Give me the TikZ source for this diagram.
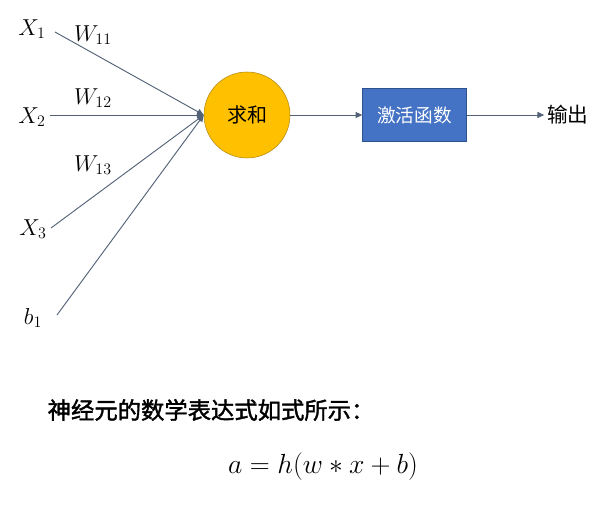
\documentclass[tikz,border=0pt]{standalone}
\usepackage{amsmath,amssymb}
\usepackage{fontspec}
\usepackage{xcolor}
\usepackage{tikz}
\usetikzlibrary{positioning, arrows.meta, calc}
\newfontfamily\cjk{Noto Sans CJK SC}
\newfontfamily\cjkmed[FakeBold=1.6]{Noto Sans CJK SC}
\definecolor{sumfill}{RGB}{255,192,0}
\definecolor{sumline}{RGB}{176,136,20}
\definecolor{actfill}{RGB}{68,114,196}
\definecolor{actline}{RGB}{47,82,143}
\definecolor{wire}{RGB}{84,98,120}
\tikzset{
  sum/.style={
    circle, draw=sumline, fill=sumfill, minimum size=64.5pt,
    inner sep=0pt, font=\cjk\fontsize{15}{18}\selectfont
  },
  act/.style={
    rectangle, draw=actline, fill=actfill, minimum width=78pt,
    minimum height=40pt, text=white, font=\cjk\fontsize{14}{17}\selectfont
  },
  inlabel/.style={font=\fontsize{16.5}{19}\selectfont, inner sep=2pt},
  outlabel/.style={font=\cjk\fontsize{15.5}{18}\selectfont, inner sep=2pt},
  wire/.style={draw=wire, line width=0.7pt, -{Triangle[length=5pt,width=4.5pt]}},
}

\begin{document}
\begin{tikzpicture}[x=0.75pt, y=-0.75pt, node distance=54pt]
  \useasboundingbox (0,0) rectangle (593,513);
  \node[sum] (SUM) at (247,115) {求和};
  \node[act, right=of SUM] (ACT) {激活函数};
  \node[outlabel, right=58pt of ACT] (OUT) {输出};

  \node[inlabel] (X1) at (32,29) {$X_1$};
  \node[inlabel] (X2) at (32,117) {$X_2$};
  \node[inlabel] (X3) at (33,229) {$X_3$};
  \node[inlabel] (B1) at (33,318) {$b_1$};
  \node[inlabel] (W11) at (93,35) {$W_{11}$};
  \node[inlabel] (W12) at (93,98) {$W_{12}$};
  \node[inlabel] (W13) at (93,165) {$W_{13}$};

  \coordinate (in1) at (55,32);
  \coordinate (in2) at (50,115);
  \coordinate (in3) at (51,228);
  \coordinate (in4) at (57,315);
  \foreach \c in {in1,in2,in3,in4}
    \draw[wire] (\c) -- (SUM.west);
  \draw[wire] (SUM) -- (ACT);
  \draw[wire] (ACT) -- (OUT);

  \node[anchor=west, font=\cjkmed\fontsize{17.5}{21}\selectfont] (TITLE) at (43,410) {神经元的数学表达式如式所示：};
  \node[font=\fontsize{19.5}{23}\selectfont] (EQ) at (323,467) {$a = h(w * x + b)$};
\end{tikzpicture}
\end{document}
